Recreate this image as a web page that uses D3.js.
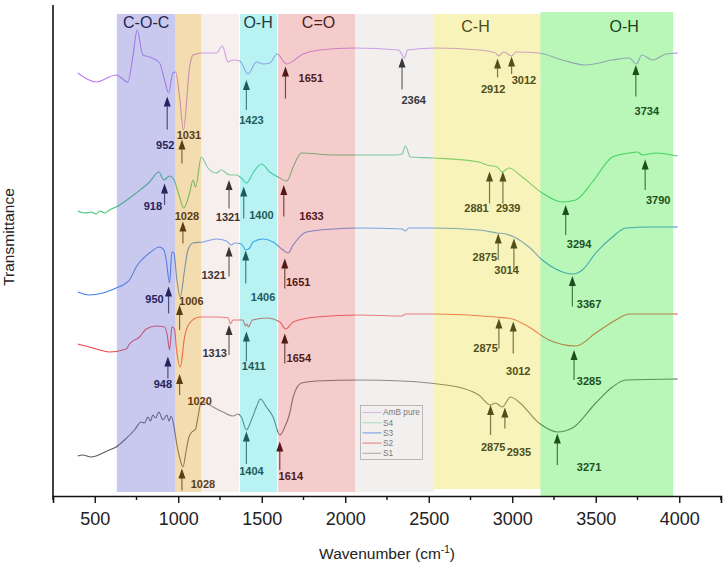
<!DOCTYPE html>
<html><head><meta charset="utf-8">
<script src="https://cdn.jsdelivr.net/npm/d3@7"></script>
<style>body{margin:0;background:#fff}svg{display:block;font-family:"Liberation Sans",Arial,sans-serif}</style>
</head><body><svg id="c" width="724" height="565"></svg>
<script>
// ---------- DATA ----------
// spectra: [wavenumber (cm-1), transmittance (offset, a.u.)]
const ambPure = [[398,84.6],[508,82.8],[628,84.2],[698,82.8],[728,87.8],[754,93.2],[788,88.2],[828,87.8],[888,86.6],[918,83.2],[942,80.6],[968,84.6],[984,84.8],[1008,79.8],[1031,73.2],[1068,85.8],[1088,88.2],[1148,88.6],[1228,88.6],[1264,90.0],[1298,86.8],[1328,87.2],[1368,87.0],[1418,84.4],[1468,86.8],[1508,86.4],[1548,86.6],[1592,88.4],[1648,86.4],[1748,88.4],[1848,89.2],[2048,89.6],[2320,89.2],[2345,88.0],[2355,87.6],[2372,89.2],[2548,89.6],[2800,89.2],[2900,88.6],[2916,88.0],[2950,88.8],[2996,88.0],[3020,88.8],[3160,88.6],[3300,87.2],[3440,86.2],[3600,87.2],[3700,87.6],[3744,86.4],[3776,88.2],[3840,87.2],[3920,88.4],[3990,88.6]];
const s4 = [[398,57.0],[440,56.6],[480,56.8],[508,56.4],[530,57.0],[560,56.6],[588,57.2],[628,57.8],[748,60.6],[828,62.8],[884,64.8],[914,63.2],[948,64.0],[972,63.4],[1008,59.8],[1033,57.6],[1068,60.6],[1088,63.2],[1104,61.8],[1138,67.8],[1178,65.6],[1228,64.6],[1258,65.2],[1308,64.2],[1348,64.2],[1378,63.6],[1408,62.6],[1448,64.6],[1498,66.4],[1548,64.8],[1598,63.8],[1650,63.0],[1688,65.8],[1738,68.6],[1928,68.2],[2088,68.2],[2300,68.2],[2340,68.4],[2360,70.0],[2390,67.8],[2530,67.6],[2800,66.8],[2850,66.2],[2910,65.8],[2940,64.8],[2980,65.6],[3060,63.8],[3180,60.6],[3300,58.8],[3380,59.2],[3480,62.8],[3600,67.8],[3700,68.6],[3750,68.8],[3780,68.2],[3860,68.6],[3990,68.0]];
const s3 = [[398,40.8],[468,40.2],[548,40.6],[628,41.6],[688,42.6],[708,43.2],[748,45.8],[828,48.6],[888,49.8],[914,49.2],[928,47.2],[948,42.6],[962,48.8],[974,48.6],[992,43.2],[1012,39.8],[1038,45.2],[1058,49.2],[1088,50.6],[1148,50.8],[1228,51.4],[1288,51.0],[1318,50.2],[1338,50.6],[1378,50.4],[1404,49.2],[1428,49.6],[1448,50.8],[1508,51.4],[1568,50.8],[1628,49.2],[1658,48.6],[1688,50.2],[1768,52.8],[1928,53.4],[2088,53.6],[2340,53.4],[2360,53.0],[2380,53.6],[2530,53.6],[2800,53.2],[2910,52.6],[2960,52.4],[3010,51.8],[3100,49.8],[3180,47.2],[3260,45.4],[3360,44.4],[3420,45.2],[3500,48.6],[3600,51.8],[3680,53.6],[3820,53.8],[3990,53.8]];
const s2 = [[398,30.4],[488,29.6],[588,28.8],[688,29.4],[708,30.4],[768,31.8],[808,33.4],[868,34.0],[918,33.8],[934,32.2],[948,29.2],[962,33.8],[978,33.4],[988,29.8],[1012,25.8],[1038,31.8],[1068,34.6],[1128,35.8],[1228,35.8],[1300,35.6],[1312,34.4],[1328,35.2],[1388,35.2],[1402,34.0],[1412,34.4],[1420,33.8],[1444,35.2],[1528,35.6],[1608,34.8],[1644,33.4],[1688,34.8],[1828,35.8],[2088,36.2],[2340,36.0],[2360,36.4],[2530,36.4],[2900,35.8],[3000,35.4],[3100,33.8],[3220,31.2],[3380,30.0],[3500,32.6],[3620,35.2],[3700,36.4],[3990,36.4]];
const s1 = [[398,8.0],[428,8.2],[478,7.8],[508,8.0],[548,8.6],[588,9.2],[628,9.8],[678,11.2],[738,13.2],[778,14.8],[798,14.6],[818,15.8],[834,15.0],[848,16.2],[864,15.6],[884,16.8],[908,15.2],[932,16.2],[944,15.0],[958,16.0],[978,13.2],[992,10.2],[1012,7.2],[1028,5.8],[1048,9.2],[1064,11.8],[1082,12.8],[1104,13.4],[1118,15.8],[1138,18.8],[1168,18.6],[1208,17.8],[1268,16.8],[1328,16.0],[1358,16.4],[1378,15.8],[1408,13.2],[1438,15.2],[1468,17.8],[1492,19.4],[1528,17.8],[1568,15.8],[1608,12.2],[1638,13.8],[1668,16.6],[1688,19.8],[1738,22.6],[1828,23.0],[2088,23.2],[2340,23.0],[2500,22.6],[2700,21.6],[2800,20.2],[2870,18.2],[2900,18.6],[2940,17.8],[2990,19.8],[3040,18.8],[3160,14.6],[3270,12.8],[3360,13.6],[3500,18.6],[3600,21.8],[3680,23.2],[3990,23.4]];

const seriesNames = ["AmB pure","S4","S3","S2","S1"];
const seriesData = [ambPure, s4, s3, s2, s1];

// assignment bands: [from, to, label, labelPosition(wavenumber)]
const bandFrom  = [632, 982, 1138, 1370, 1598, 2059, 2530, 3169];
const bandTo    = [982, 1138, 1364, 1592, 2059, 2530, 3169, 3963];
const bandLabel = ["C-O-C", "", "", "O-H", "C=O", "", "C-H", "O-H"];
const bandLabelW= [808, 0, 0, 1478, 1840, 0, 2780, 3670];

// peak annotations: label, arrow wavenumber, tip T, tail T, label wavenumber, label T, band group
const peaks = [
  // AmB pure
  ["952",934,79.9,73.3,922,70.2,0],["1031",1022,71.3,66.5,1064,72.2,1],["1423",1408,83.2,77.2,1438,75.2,3],
  ["1651",1642,85.9,79.5,1794,83.6,4],["2364",2340,87.7,81.3,2410,79.2,5],["2912",2912,87.5,83.7,2886,81.3,6],
  ["3012",2996,87.9,84.4,3070,83.1,6],["3734",3740,86.2,79.9,3806,76.9,7],
  // S4
  ["918",918,62.5,58.2,848,57.9,0],["1028",1028,54.9,50.5,1052,56.0,1],["1321",1304,63.2,57.5,1298,55.7,2],
  ["1400",1392,61.9,55.5,1498,56.1,3],["1633",1632,62.2,55.9,1798,55.9,4],["2881",2864,64.9,58.5,2786,57.5,6],
  ["2939",2944,64.9,58.5,2976,57.5,6],["3294",3320,58.2,52.2,3400,50.4,7],["3790",3796,67.3,61.2,3874,59.1,7],
  // S3
  ["950",942,41.9,36.5,858,39.3,0],["1006",1008,38.2,33.2,1078,38.9,1],["1321",1304,49.9,43.9,1212,44.1,2],
  ["1406",1404,49.1,42.5,1508,39.7,3],["1651",1638,47.5,41.5,1718,42.7,4],["2875",2916,52.5,47.2,2836,47.7,6],
  ["3014",3010,51.5,45.2,2966,45.2,6],["3367",3360,44.0,37.9,3460,38.4,7],
  // S2
  ["948",938,27.9,23.5,908,22.4,0],["1020",1008,24.4,20.2,1128,18.9,1],["1313",1304,34.2,28.2,1218,28.5,2],
  ["1411",1408,32.9,26.9,1452,26.0,3],["1654",1638,32.5,26.5,1722,27.5,4],["2875",2920,35.5,29.5,2840,29.5,6],
  ["3012",3006,34.9,28.5,3036,24.9,6],["3285",3370,29.2,23.2,3460,23.0,7],
  // S1
  ["1028",1022,5.5,1.1,1148,2.3,1],["1404",1408,12.9,6.4,1438,4.9,3],["1614",1608,10.9,5.2,1674,4.0,4],
  ["2875",2870,18.2,12.2,2886,9.7,6],["2935",2956,17.7,13.5,3040,8.7,6],["3271",3270,12.5,6.2,3460,5.7,7]
];

const xTicksMajor = [500,1000,1500,2000,2500,3000,3500,4000];
const xTicksMinor = [250,750,1250,1750,2250,2750,3250,3750,4250];

// ---------- STYLE ----------
const lineColors   = ["#be7cf0","#3cc470","#3c82e6","#f04444","#5a5a5a"];
const legendColors = ["#d4a8f2","#9fe0b8","#3f86f0","#f05a5a","#9a9a9a"];
const bandFill = ["rgba(120,120,215,0.4)","rgba(225,168,58,0.4)","rgba(235,212,212,0.4)","rgba(77,222,222,0.4)",
                  "rgba(230,128,128,0.4)","rgba(222,215,215,0.4)","rgba(235,225,85,0.4)","rgba(77,235,77,0.4)"];
const groupColor = ["#24245e","#5c3d12","#3d3333","#1e5c5c","#521818","#383838","#4f4f1a","#1c4f1c"];
const bandLabelColor = ["#25254f","","","#1d3d3d","#4a1c1c","","#4d4d1c","#1c3f1c"];

// ---------- DRAW ----------
const svg = d3.select("#c");
const x = d3.scaleLinear().domain([250,4250]).range([53,721]);
const y = d3.scaleLinear().domain([0,98.2]).range([496,5]);

// legend box (under the translucent bands)
const lg = svg.append("g");
lg.append("rect").attr("x",360.5).attr("y",405.5).attr("width",62).attr("height",54)
  .attr("fill","#fff").attr("stroke","#8a8a8a").attr("stroke-width",0.8);
seriesNames.forEach((n,i)=>{
  const yy = 412.5 + i*10.2;
  lg.append("line").attr("x1",362.5).attr("x2",381.5).attr("y1",yy).attr("y2",yy)
    .attr("stroke",legendColors[i]).attr("stroke-width",1.2);
  lg.append("text").attr("x",383).attr("y",yy).attr("dy","0.35em").attr("font-size",8.3)
    .attr("fill","#333").text(n);
});

// spectra
const line = d3.line().x(d=>x(d[0])).y(d=>y(d[1])).curve(d3.curveMonotoneX);
seriesData.forEach((s,i)=>{
  svg.append("path").datum(s).attr("d",line).attr("fill","none")
    .attr("stroke",lineColors[i]).attr("stroke-width",1.1);
});

// bands
bandFrom.forEach((f,i)=>{
  const top = i===7 ? 12 : 14;
  const bottom = i===7 ? 497 : (i===6 ? 489 : 492);
  svg.append("rect").attr("x",x(f)).attr("y",top).attr("width",x(bandTo[i])-x(f)).attr("height",bottom-top)
    .attr("fill",bandFill[i]);
  if (bandLabel[i]) {
    svg.append("text").attr("x",x(bandLabelW[i])).attr("y", i>=6 ? 26 : 22).attr("dy","0.35em")
      .attr("text-anchor","middle").attr("font-size",16).attr("fill",bandLabelColor[i]).text(bandLabel[i]);
  }
});

// peak arrows and labels
peaks.forEach(p=>{
  const [lab,w,tip,tail,lw,lt,g] = p;
  const px = x(w), yt = y(tip), yb = y(tail);
  const col = groupColor[g];
  svg.append("line").attr("x1",px).attr("x2",px).attr("y1",yt+6).attr("y2",yb)
    .attr("stroke",col).attr("stroke-opacity",0.75).attr("stroke-width",1.2);
  svg.append("path").attr("d",`M${px},${yt}L${px-3.5},${yt+10}L${px+3.5},${yt+10}Z`).attr("fill",col);
  svg.append("text").attr("x",x(lw)).attr("y",y(lt)).attr("dy","0.35em").attr("text-anchor","middle")
    .attr("font-size",11).attr("font-weight","bold").attr("fill",col).text(lab);
});

// axes
const xAxis = svg.append("g").attr("transform","translate(0,496)")
  .call(d3.axisBottom(x).tickValues(xTicksMajor).tickSize(7).tickPadding(9).tickFormat(d3.format("d")));
xAxis.select(".domain").attr("stroke","#111").attr("stroke-width",1.6);
xAxis.selectAll(".tick line").attr("stroke","#111").attr("stroke-width",1.4);
xAxis.selectAll(".tick text").attr("font-size",18).attr("fill","#222")
  .attr("font-family","'Liberation Sans',Arial,sans-serif");
xAxis.selectAll(".minor").data(xTicksMinor).enter().append("line").attr("class","minor")
  .attr("x1",d=>x(d)).attr("x2",d=>x(d)).attr("y1",0).attr("y2",4).attr("stroke","#111").attr("stroke-width",1.4);

svg.append("line").attr("x1",53).attr("x2",53).attr("y1",5).attr("y2",496.8)
  .attr("stroke","#111").attr("stroke-width",1.6);

// titles
const xt = svg.append("text").attr("x",387).attr("y",559).attr("text-anchor","middle")
  .attr("font-size",15.5).attr("fill","#222");
xt.append("tspan").text("Wavenumber (cm");
xt.append("tspan").attr("font-size",10).attr("dy",-6).text("-1");
xt.append("tspan").attr("dy",6).text(")");

svg.append("text").attr("transform","translate(14,237) rotate(-90)").attr("text-anchor","middle")
  .attr("font-size",15.5).attr("fill","#222").text("Transmittance");
</script>
</body></html>
